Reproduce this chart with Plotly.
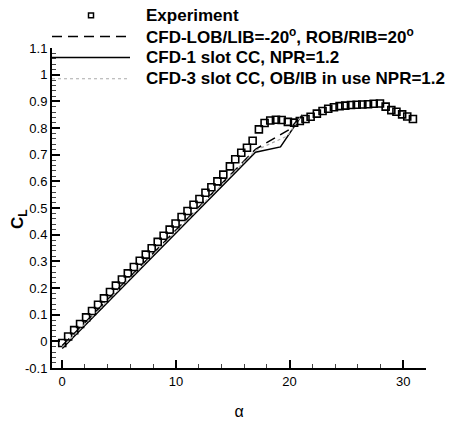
import plotly.graph_objects as go

# ---------------- data ----------------
exp_alpha = [0.0, 0.52, 1.05, 1.57, 2.1, 2.62, 3.15, 3.67, 4.2, 4.72, 5.25, 5.77, 6.3, 6.82,
             7.35, 7.87, 8.4, 8.92, 9.45, 9.97, 10.5, 11.02, 11.55, 12.07, 12.6, 13.12, 13.65,
             14.17, 14.75, 15.22, 15.75, 16.25, 16.75, 17.3, 17.8, 18.3, 18.8, 19.3, 19.85,
             20.4, 20.9, 21.4, 21.85, 22.4, 22.9, 23.4, 23.9, 24.4, 24.9, 25.4, 25.9, 26.4,
             26.9, 27.4, 27.95, 28.45, 28.95, 29.4, 29.9, 30.35, 30.85]
exp_cl = [-0.006, 0.018, 0.042, 0.065, 0.09, 0.114, 0.137, 0.161, 0.185, 0.209, 0.232, 0.255,
          0.279, 0.302, 0.325, 0.349, 0.373, 0.396, 0.419, 0.442, 0.466, 0.489, 0.512, 0.534,
          0.557, 0.578, 0.60, 0.625, 0.656, 0.683, 0.707, 0.726, 0.752, 0.795, 0.819, 0.828,
          0.831, 0.830, 0.823, 0.820, 0.826, 0.834, 0.842, 0.854, 0.864, 0.872, 0.878, 0.882,
          0.884, 0.886, 0.887, 0.888, 0.889, 0.891, 0.892, 0.880, 0.867, 0.861, 0.851, 0.843,
          0.834]

lob_alpha = [0, 17, 20, 21.1]
lob_cl = [-0.016, 0.72, 0.795, 0.85]

one_alpha = [0, 17, 19.2, 21.1]
one_cl = [-0.027, 0.709, 0.729, 0.849]

three_alpha = [0, 17, 19.8, 21.1]
three_cl = [-0.022, 0.716, 0.77, 0.85]

names = ["Experiment",
         "CFD-LOB/LIB=-20<sup>o</sup>, ROB/RIB=20<sup>o</sup>",
         "CFD-1 slot CC, NPR=1.2",
         "CFD-3 slot CC, OB/IB in use NPR=1.2"]

x_tickvals = [0, 10, 20, 30]
x_ticktext = ["0", "10", "20", "30"]
y_tickvals = [-0.1, 0, 0.1, 0.2, 0.3, 0.4, 0.5, 0.6, 0.7, 0.8, 0.9, 1.0, 1.1]
y_ticktext = ["-0.1", "0", "0.1", "0.2", "0.3", "0.4", "0.5", "0.6", "0.7", "0.8", "0.9", "1", "1.1"]

# ---------------- layout geometry (pixels) ----------------
W, H = 459, 430
ML, MR, MT, MB = 52, 33, 48, 49
PW, PH = W - ML - MR, H - MT - MB


def px_x(px):
    return (px - ML) / PW


def px_y(py):
    return (H - MB - py) / PH


# ---------------- figure ----------------
fig = go.Figure()
fig.add_trace(go.Scatter(x=exp_alpha, y=exp_cl, mode="markers", name=names[0],
                         marker=dict(symbol="square-open", size=7, color="black",
                                     line=dict(width=1.6, color="black"))))
fig.add_trace(go.Scatter(x=lob_alpha, y=lob_cl, mode="lines", name=names[1],
                         line=dict(color="black", width=1.5, dash="10px,6px")))
fig.add_trace(go.Scatter(x=one_alpha, y=one_cl, mode="lines", name=names[2],
                         line=dict(color="black", width=1.5)))
fig.add_trace(go.Scatter(x=three_alpha, y=three_cl, mode="lines", name=names[3],
                         line=dict(color="#aaaaaa", width=1.2, dash="dot")))

axis_common = dict(showline=True, linecolor="black", linewidth=2, mirror=False,
                   showgrid=False, zeroline=False, ticks="inside", ticklen=8,
                   tickwidth=1.5, tickcolor="black",
                   tickfont=dict(family="Liberation Sans", size=13, color="black"))

fig.update_xaxes(range=[-0.9, 32], tickmode="array", tickvals=x_tickvals, ticktext=x_ticktext,
                 minor=dict(ticks="inside", ticklen=4, tickwidth=1, tickcolor="#444", dtick=2),
                 title=dict(text="α", font=dict(family="Liberation Sans", size=16, color="black"),
                            standoff=18),
                 **axis_common)
fig.update_yaxes(range=[-0.1, 1.1], tickmode="array", tickvals=y_tickvals, ticktext=y_ticktext,
                 minor=dict(ticks="inside", ticklen=4, tickwidth=1, tickcolor="#444", dtick=0.02),
                 **axis_common)

# ---------------- legend (drawn manually for exact placement) ----------------
leg_rows_y = [14, 36, 58, 80]
leg_text_x = 144
leg_font = dict(family="Liberation Sans", size=17, color="black", weight="bold")
annotations = []
for name, ry in zip(names, leg_rows_y):
    annotations.append(dict(text=name, xref="paper", yref="paper", x=px_x(leg_text_x), y=px_y(ry),
                            xanchor="left", yanchor="middle", showarrow=False, font=leg_font))

# y-axis title
annotations.append(dict(text="<b>C<sub>L</sub></b>", xref="paper", yref="paper",
                        x=px_x(19), y=px_y(226), xanchor="center", yanchor="middle",
                        textangle=-90, showarrow=False,
                        font=dict(family="Liberation Sans", size=17, color="black")))

shapes = [
    dict(type="rect", xref="paper", yref="paper", x0=px_x(88.5), x1=px_x(93.5),
         y0=px_y(16.5), y1=px_y(11.5), line=dict(color="black", width=1.5)),
    dict(type="line", xref="paper", yref="paper", x0=px_x(52), x1=px_x(130),
         y0=px_y(leg_rows_y[1]), y1=px_y(leg_rows_y[1]),
         line=dict(color="black", width=1.5, dash="10px,6px")),
    dict(type="line", xref="paper", yref="paper", x0=px_x(52), x1=px_x(130),
         y0=px_y(leg_rows_y[2]), y1=px_y(leg_rows_y[2]),
         line=dict(color="black", width=1.5)),
    dict(type="line", xref="paper", yref="paper", x0=px_x(52), x1=px_x(130),
         y0=px_y(leg_rows_y[3]), y1=px_y(leg_rows_y[3]),
         line=dict(color="#aaaaaa", width=1.2, dash="dot")),
]

fig.update_layout(
    width=W, height=H,
    margin=dict(l=ML, r=MR, t=MT, b=MB),
    paper_bgcolor="white", plot_bgcolor="white",
    showlegend=False,
    annotations=annotations,
    shapes=shapes,
)

fig.write_html("out.html")
